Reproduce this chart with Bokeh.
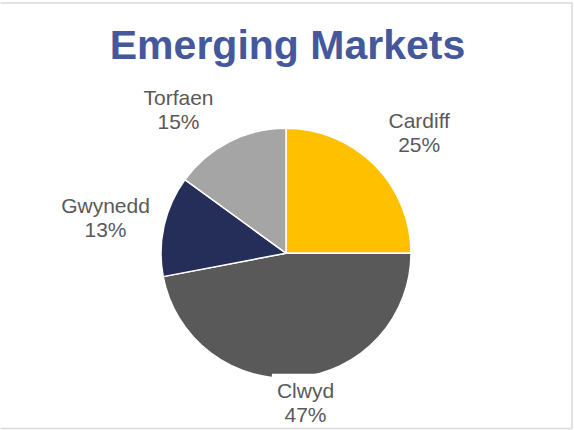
import math
from bokeh.plotting import figure
from bokeh.models import Range1d, ColumnDataSource
from bokeh.core.properties import value
from bokeh.embed import file_html
from bokeh.resources import INLINE

# ---- data ----
title_text = "Emerging Markets"
categories = ["Cardiff", "Clwyd", "Gwynedd", "Torfaen"]
shares = [25, 47, 13, 15]
colors = ["#FFC000", "#595959", "#242E59", "#A5A5A5"]

# ---- layout (pixel units inside the figure, y up) ----
W, H = 574, 430
cx, cy, R = 285.5, 177.3, 125
label_x = [418.7, 305, 105, 178]
label_y = [310, 40.3, 225.3, 333.5]
line_gap = 24

total = sum(shares)
starts, ends = [], []
cum = 0.0
for v in shares:
    starts.append(math.pi / 2 - 2 * math.pi * cum / total)
    cum += v
    ends.append(math.pi / 2 - 2 * math.pi * cum / total)

src = ColumnDataSource(dict(
    x=[cx] * len(shares), y=[cy] * len(shares),
    start=starts, end=ends, color=colors,
))

p = figure(width=W, height=H, x_range=Range1d(0, W), y_range=Range1d(0, H),
           output_backend="svg", toolbar_location=None, min_border=0)
p.axis.visible = False
p.grid.visible = False
p.outline_line_color = None
p.background_fill_color = "white"
p.border_fill_color = "white"

# chart-area frame
p.quad(left=[-5], right=[571.5], bottom=[2], top=[427.5], fill_color=None,
       line_color="#D9D9D9", line_width=1.5)

p.wedge(x="x", y="y", radius=R, start_angle="start", end_angle="end",
        direction="clock", fill_color="color", line_color="white",
        line_width=1.5, source=src)

lab = ColumnDataSource(dict(
    x=label_x, y=label_y,
    y2=[y - line_gap for y in label_y],
    name=categories,
    pct=[f"{v}%" for v in shares],
))
p.text(x="x", y="y", text="name", source=lab, text_align="center",
       text_baseline="alphabetic", text_font=value("Liberation Sans"),
       text_font_size="21px", text_color="#595959",
       background_fill_color="white", padding=5)
p.text(x="x", y="y2", text="pct", source=lab, text_align="center",
       text_baseline="alphabetic", text_font=value("Liberation Sans"),
       text_font_size="21px", text_color="#595959")

p.text(x=[287], y=[386], text=[title_text], text_align="center",
       text_baseline="alphabetic", text_font=value("Liberation Sans"),
       text_font_style="bold", text_font_size="41px", text_color="#44589B")

open("out.html", "w").write(file_html(p, INLINE))
